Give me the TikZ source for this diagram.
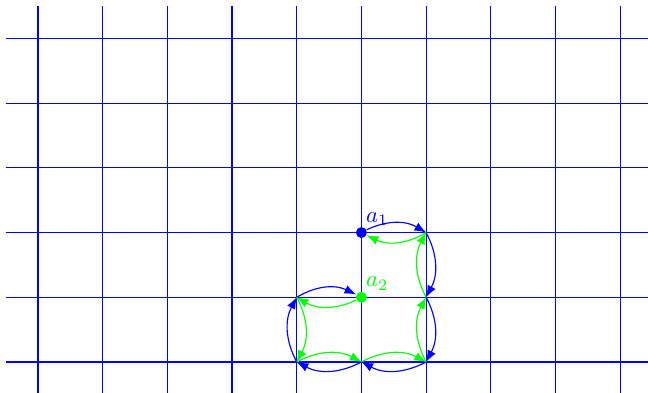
\documentclass[tikz,border=0pt]{standalone}
\usepackage{tikz}
\usetikzlibrary{arrows.meta, positioning}

\begin{document}
\begin{tikzpicture}[
    every node/.style={font=\normalsize},
    gridline/.style={blue, line width=0.5pt},
    agent/.style={circle, fill, inner sep=0pt, minimum size=1.7mm},
    tag/.style={inner sep=1pt},
    walk/.style={-{Latex[length=1.8mm, width=1.4mm]}, line width=0.5pt, bend left=28}
]
\useasboundingbox (-0.587,-0.479) rectangle (9.43,5.595);

\draw[gridline] (-0.5,-0.5) grid (9.45,5.5);

% agents
\node[agent, blue] (a1) at (5,2) {};
\node[agent, green] (a2) at (5,1) {};
\node[tag, blue, above right=0pt and -1pt of a1] (l1) {$a_1$};
\node[tag, green, above right=0pt and -1pt of a2] (l2) {$a_2$};

% cells of the loop
\coordinate (p40) at (4,0);
\coordinate (p50) at (5,0);
\coordinate (p60) at (6,0);
\coordinate (p41) at (4,1);
\coordinate (p61) at (6,1);
\coordinate (p62) at (6,2);

\foreach \s/\t in {a1/p62, p62/p61, p61/p60, p60/p50, p50/p40, p40/p41, p41/a2} {
    \draw[walk, blue] (\s) to (\t);
}
\foreach \s/\t in {a2/p41, p41/p40, p40/p50, p50/p60, p60/p61, p61/p62, p62/a1} {
    \draw[walk, green] (\s) to (\t);
}

\end{tikzpicture}
\end{document}
